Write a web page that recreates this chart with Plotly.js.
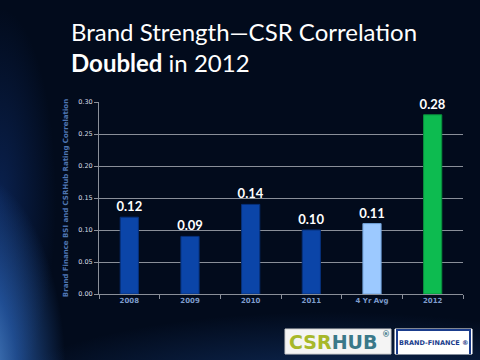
<!DOCTYPE html>
<html><head><meta charset="utf-8">
<script src="https://cdn.plot.ly/plotly-3.0.1.min.js"></script>
<style>
html,body{margin:0;padding:0;width:480px;height:360px;overflow:hidden;}
#bg{position:absolute;left:0;top:0;width:480px;height:360px;
background:
radial-gradient(ellipse 120px 260px at -30px 380px, rgba(110,175,245,0.9) 0%, rgba(50,115,210,0.6) 40%, rgba(10,40,100,0.0) 80%),
radial-gradient(ellipse 420px 110px at 330px 400px, rgba(30,80,160,0.55) 0%, rgba(10,40,100,0.0) 80%),
radial-gradient(ellipse 70px 240px at 0px 200px, rgba(20,60,140,0.45) 0%, rgba(10,30,80,0) 80%),
#020b1c;}
#chart{position:absolute;left:0;top:0;width:480px;height:360px;}
</style></head>
<body><div id="bg"></div><div id="chart"></div>
<script>
var categories = ["2008","2009","2010","2011","4 Yr Avg","2012"];
var values = [0.12, 0.09, 0.14, 0.10, 0.11, 0.28];
var labels = ["0.12","0.09","0.14","0.10","0.11","0.28"];
var barColors = ["#0b45a8","#0b45a8","#0b45a8","#0b45a8","#9cc9ff","#0dbb50"];
var lineColors = ["#06307a","#06307a","#06307a","#06307a","#6fa0d8","#09903c"];
var yTicks = [0,0.05,0.10,0.15,0.20,0.25,0.30];
var yTickLabels = ["0.00","0.05","0.10","0.15","0.20","0.25","0.30"];

var trace = {
  type:"bar", x:categories, y:values,
  marker:{color:barColors, line:{color:lineColors, width:1}},
  text:labels, textposition:"outside", cliponaxis:false, constraintext:"none",
  textfont:{family:"Lato, 'Open Sans', sans-serif", size:13, color:"#ffffff", weight:"bold"},
  hoverinfo:"none"
};

var layout = {
  width:480, height:360,
  paper_bgcolor:"rgba(0,0,0,0)", plot_bgcolor:"rgba(0,0,0,0)",
  margin:{l:99, r:17, t:102, b:66},
  bargap:0.7,
  showlegend:false,
  xaxis:{
    type:"category", showgrid:false, showline:true, linecolor:"#8a8f99", linewidth:1,
    ticks:"outside", tickson:"boundaries", ticklen:4, tickcolor:"#8a8f99",
    tickfont:{family:"Verdana, 'DejaVu Sans', sans-serif", size:7, color:"#7d9ccc", weight:"bold"}
  },
  yaxis:{
    range:[0,0.30], tickvals:yTicks, ticktext:yTickLabels,
    showgrid:true, gridcolor:"#8a8f99", gridwidth:1, zeroline:false,
    showline:true, linecolor:"#8a8f99", ticks:"outside", ticklen:4, tickcolor:"#8a8f99",
    tickfont:{family:"Verdana, 'DejaVu Sans', sans-serif", size:6.5, color:"#d8dde6"},
    title:{text:"Brand Finance BSI and CSRHub Rating Correlation", standoff:8,
      font:{family:"Verdana, 'DejaVu Sans', sans-serif", size:7, color:"#4f76b3", weight:"bold"}}
  },
  annotations:[
    {xref:"paper", yref:"paper", x:-0.083, y:(294-15)/192, xanchor:"left", yanchor:"top", showarrow:false, align:"left",
     text:"Brand Strength\u2014CSR Correlation<br><b>Doubled</b> in 2012",
     font:{family:"Lato, 'Open Sans', sans-serif", size:24, color:"#ffffff"}},
    {xref:"paper", yref:"paper", x:(287-99)/364, y:(294-342)/192, xanchor:"left", yanchor:"middle", showarrow:false,
     text:"<span style='color:#a7b82a'>CSR</span><span style='color:#3a7889'>HUB</span>",
     font:{family:"'DejaVu Sans', sans-serif", size:19, color:"#a7b82a", weight:"bold"}},
    {xref:"paper", yref:"paper", x:(386-99)/364, y:(294-334)/192, xanchor:"center", yanchor:"middle", showarrow:false,
     text:"\u00ae",
     font:{family:"'DejaVu Sans', sans-serif", size:8, color:"#3a7889", weight:"bold"}},
    {xref:"paper", yref:"paper", x:(433-99)/364, y:(294-343)/192, xanchor:"center", yanchor:"middle", showarrow:false,
     text:"BRAND-FINANCE \u00ae",
     font:{family:"'DejaVu Sans', sans-serif", size:6.5, color:"#1a3c8c", weight:"bold"}}
  ],
  shapes:[
    {type:"rect", xref:"paper", yref:"paper", x0:(285-99)/364, x1:(391-99)/364, y0:(294-354)/192, y1:(294-329)/192,
     fillcolor:"#f4f4f4", line:{color:"#cfcfcf", width:1}},
    {type:"rect", xref:"paper", yref:"paper", x0:(395-99)/364, x1:(472-99)/364, y0:(294-354)/192, y1:(294-329)/192,
     fillcolor:"#ffffff", line:{color:"#ffffff", width:1}},
    {type:"rect", xref:"paper", yref:"paper", x0:(396-99)/364, x1:(471-99)/364, y0:(294-331)/192, y1:(294-329)/192,
     fillcolor:"#1a3c8c", line:{width:0}},
    {type:"rect", xref:"paper", yref:"paper", x0:(396-99)/364, x1:(398-99)/364, y0:(294-354)/192, y1:(294-329)/192,
     fillcolor:"#1a3c8c", line:{width:0}},
    {type:"rect", xref:"paper", yref:"paper", x0:(469-99)/364, x1:(471-99)/364, y0:(294-354)/192, y1:(294-329)/192,
     fillcolor:"#1a3c8c", line:{width:0}}
  ]
};

Plotly.newPlot("chart", [trace], layout, {staticPlot:true, displayModeBar:false});
</script></body></html>
